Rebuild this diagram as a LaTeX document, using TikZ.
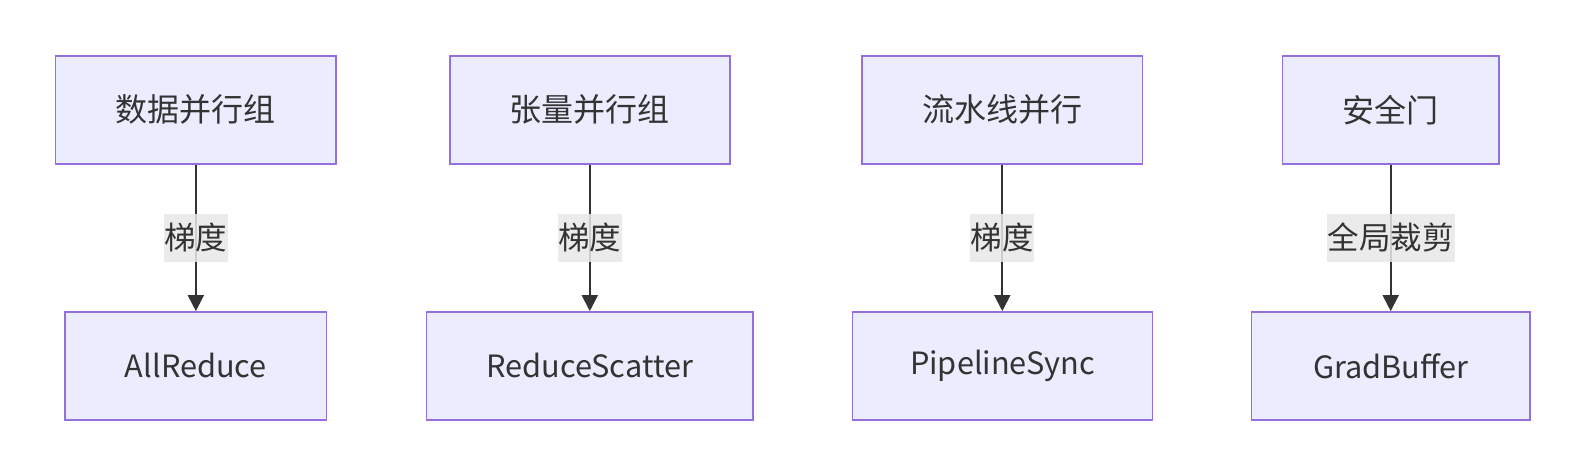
\documentclass[tikz,border=0pt]{standalone}
\usepackage{fontspec}
\setmainfont{Noto Sans CJK SC}
\usetikzlibrary{arrows.meta}
\definecolor{boxfill}{HTML}{ECECFF}
\definecolor{boxline}{HTML}{9370DB}
\definecolor{ink}{HTML}{333333}
\definecolor{lblbg}{HTML}{E8E8E8}
\begin{document}
\begin{tikzpicture}[x=1pt,y=-1pt,
  box/.style={draw=boxline,fill=boxfill,line width=1.5pt,inner sep=0pt,
    minimum height=108pt,text=ink,font=\fontsize{32}{38}\selectfont},
  latinbox/.style={box,font=\fontsize{30.7}{37}\selectfont},
  lbl/.style={fill=lblbg,fill opacity=0.85,text opacity=1,inner sep=0pt,
    minimum height=47.7pt,text=ink,font=\fontsize{31.5}{38}\selectfont},
  conn/.style={draw=ink,line width=2pt,-{Triangle[length=16pt,width=16pt]}}]
\useasboundingbox (0,0) rectangle (1585,476);
\node[box,minimum width=280.3pt] (t1) at (195.85,109.85) {数据并行组};
\node[box,minimum width=280pt]   (t2) at (589.8,109.85) {张量并行组};
\node[box,minimum width=280.7pt] (t3) at (1002.3,109.85) {流水线并行};
\node[box,minimum width=216.7pt] (t4) at (1390.7,109.85) {安全门};
\node[latinbox,minimum width=261.7pt] (b1) at (195.85,365.85) {AllReduce};
\node[latinbox,minimum width=326.4pt] (b2) at (589.8,365.85) {ReduceScatter};
\node[latinbox,minimum width=299.6pt] (b3) at (1002.5,365.85) {PipelineSync};
\node[latinbox,minimum width=278.3pt] (b4) at (1390.85,365.85) {GradBuffer};
\draw[conn] (t1) -- node[lbl,minimum width=63.7pt] (l1) {梯度} (t1.south |- b1.north);
\draw[conn] (t2) -- node[lbl,minimum width=63.7pt] (l2) {梯度} (t2.south |- b2.north);
\draw[conn] (t3) -- node[lbl,minimum width=63.7pt] (l3) {梯度} (t3.south |- b3.north);
\draw[conn] (t4) -- node[lbl,minimum width=127.7pt] (l4) {全局裁剪} (t4.south |- b4.north);
\end{tikzpicture}
\end{document}
